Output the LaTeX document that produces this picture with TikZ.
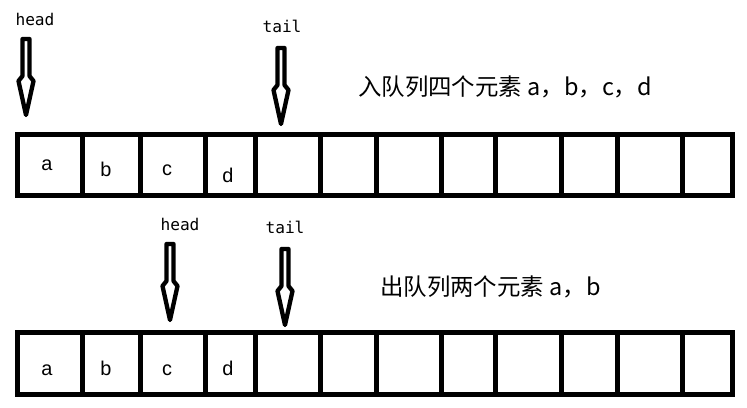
\documentclass[tikz,border=0pt]{standalone}
\usepackage{fontspec}
\setmainfont{Liberation Sans}
\newfontfamily\cjk{Noto Sans CJK SC}
\newfontfamily\ptrfont{DejaVu Sans Mono}
\usetikzlibrary{positioning}

\tikzset{
  ptr/.pic={
    \draw[line width=0.13cm, line join=round, fill=white]
      (-3.5,0) -- (3.5,0) -- (3.5,37) -- (7.5,42) -- (0,76) -- (-7.5,42) -- (-3.5,37) -- cycle;
  }
}

\begin{document}
\begin{tikzpicture}[
  x=0.03cm, y=-0.03cm,
  queue/.style={line width=0.15cm, line join=miter},
  elem/.style={inner sep=0pt, anchor=base, font=\fontsize{17}{17}\selectfont},
  ptrlbl/.style={inner sep=0pt, font=\ptrfont\fontsize{13.8}{13.8}\selectfont},
  note/.style={inner sep=0pt, anchor=west, font=\cjk\fontsize{20}{20}\selectfont}
]
\useasboundingbox (0,0) rectangle (747,407);

% enqueue a, b, c, d
\draw[queue] (17,134.5) rectangle (732,195.5);
\foreach \x in {82,140,205,255,320,376,441,495,561,617,682}
  \draw[queue] (\x,134.5) -- (\x,195.5);
\node[elem] (a1) at (47,170) {a};
\node[elem] (b1) at (106,176) {b};
\node[elem] (c1) at (167,175) {c};
\node[elem] (d1) at (228,182) {d};

\node[ptrlbl] (head1) at (35,19) {head};
\node[ptrlbl] (tail1) at (282,26) {tail};
\coordinate (hp1) at (26,39);
\coordinate (tp1) at (281,48);
\pic at (hp1) {ptr};
\pic at (tp1) {ptr};
\node[note] (msg1) at (358,87) {入队列四个元素 a，b，c，d};

% dequeue a, b
\draw[queue] (17,332.5) rectangle (732,394.5);
\foreach \x in {82,140,205,255,320,376,441,495,561,617,682}
  \draw[queue] (\x,332.5) -- (\x,394.5);
\node[elem] (a2) at (47,375) {a};
\node[elem] (b2) at (106,375) {b};
\node[elem] (c2) at (167,375) {c};
\node[elem] (d2) at (228,375) {d};

\node[ptrlbl] (head2) at (180,224) {head};
\node[ptrlbl] (tail2) at (285,227) {tail};
\coordinate (hp2) at (170,244);
\coordinate (tp2) at (285,249);
\pic at (hp2) {ptr};
\pic at (tp2) {ptr};
\node[note] (msg2) at (380,287) {出队列两个元素 a，b};
\end{tikzpicture}
\end{document}
